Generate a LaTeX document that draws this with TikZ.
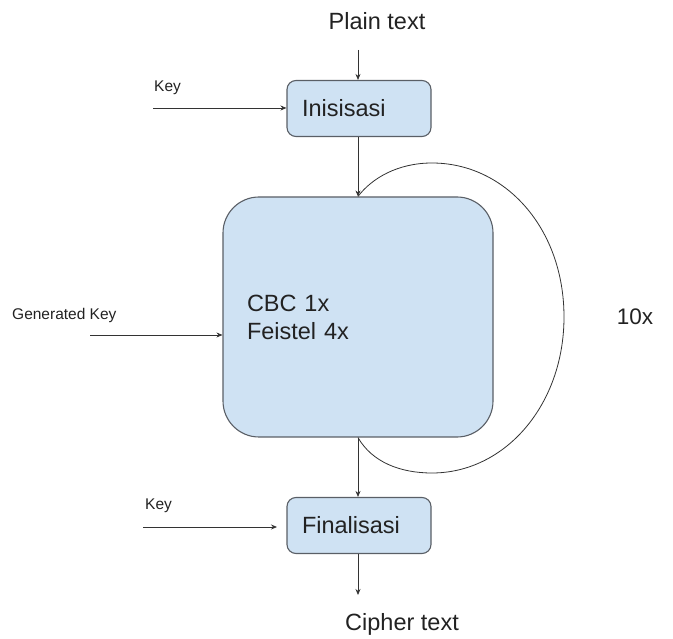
\documentclass[tikz,border=0pt]{standalone}
\usepackage{fontspec}
\setmainfont{Liberation Sans}
\usetikzlibrary{arrows.meta}
\definecolor{boxfill}{HTML}{CFE2F3}
\definecolor{boxline}{HTML}{5A5F66}
\definecolor{inkline}{HTML}{333333}
\definecolor{inktext}{HTML}{222222}
\begin{document}
\begin{tikzpicture}[x=1pt,y=-1pt,
  stagebox/.style={draw=boxline, fill=boxfill, line width=1.1pt, rounded corners=9pt,
    inner xsep=15pt, inner ysep=0pt, minimum height=56pt, text width=114pt, align=left,
    text=inktext, font=\fontsize{23.5}{28}\selectfont},
  flow/.style={draw=inkline, line width=0.8pt, -{Stealth[length=6pt,width=5pt]}},
  biglabel/.style={text=inktext, font=\fontsize{23.5}{28}\selectfont, inner sep=0pt},
  smalllabel/.style={text=inktext, font=\fontsize{15.5}{18}\selectfont, inner sep=0pt}]
\useasboundingbox (0,0) rectangle (673,639);

% main blocks
\node[stagebox] (ini) at (359,108.5) {Inisisasi};
\node[stagebox, rounded corners=36pt, minimum height=240pt, text width=222pt,
      inner xsep=24pt, font=\fontsize{23.5}{28}\selectfont] (core) at (358,317)
      {CBC 1x\\Feistel 4x};
\node[stagebox] (fin) at (359,525.5) {Finalisasi};

% texts
\node[biglabel] (plain) at (377,21) {Plain text};
\node[biglabel] (cipher) at (402,624) {Cipher text};
\node[biglabel, font=\fontsize{22.5}{26}\selectfont] (rounds) at (635,317) {10x};
\node[smalllabel, anchor=west] (key1) at (154,88) {Key};
\node[smalllabel, anchor=west] (gkey) at (12,315) {Generated Key};
\node[smalllabel, anchor=west] (key2) at (145,506) {Key};

% free ends of the inputs and outputs
\coordinate (ptop) at (358,50);
\coordinate (k1) at (153,108);
\coordinate (gk) at (90,335);
\coordinate (k2) at (143,527);
\coordinate (k2tip) at (277,527);
\coordinate (cend) at (358,595);

% connectors
\draw[flow] (ptop) -- (ptop |- ini.north);
\draw[flow] (k1) -- (k1 -| ini.west);
\draw[flow] (ini.south -| ptop) -- (ptop |- core.north);
\draw[flow] (gk) -- (gk -| core.west);
\draw[flow] (core.south -| ptop) -- (ptop |- fin.north);
\draw[flow] (k2) -- (k2tip);
\draw[flow] (fin.south -| ptop) -- (cend);

% repetition loop around the core block
\draw[draw=inkline, line width=0.8pt]
  (ptop |- core.south) .. controls (372,462) and (400,473) .. (432,473)
  .. controls (505,473) and (564,405) .. (564,317)
  .. controls (564,228) and (505,163) .. (432,163)
  .. controls (398,163) and (372,178) .. (ptop |- core.north);
\end{tikzpicture}
\end{document}
